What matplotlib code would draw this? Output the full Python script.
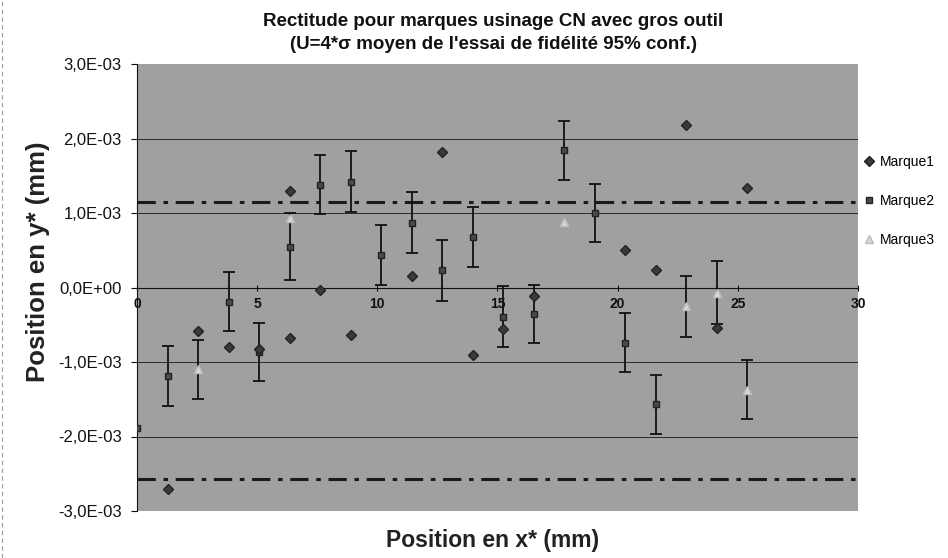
import matplotlib.pyplot as plt
from matplotlib.ticker import FuncFormatter, MultipleLocator

plt.rcParams['font.family'] = ['Liberation Sans', 'DejaVu Sans']

# Marque1 : losanges (pas de barres d'erreur)
x_m1 = [1.27, 2.54, 3.81, 5.08, 6.35, 6.35, 7.62, 8.89, 11.43, 12.70, 13.97,
        15.24, 16.51, 20.32, 21.59, 22.86, 24.13, 25.40]
y_m1 = [-2.71e-3, -0.58e-3, -0.80e-3, -0.82e-3, 1.29e-3, -0.68e-3, -0.04e-3,
        -0.64e-3, 0.15e-3, 1.82e-3, -0.91e-3, -0.56e-3, -0.12e-3, 0.51e-3,
        0.24e-3, 2.18e-3, -0.54e-3, 1.33e-3]

# Marque2 : carres avec barres d'erreur (U = 0 -> pas de barre)
x_m2 = [0.0, 1.27, 3.81, 5.08, 6.35, 7.62, 8.89, 10.16, 11.43, 12.70, 13.97,
        15.24, 16.51, 17.78, 19.05, 20.32, 21.59]
y_m2 = [-1.89e-3, -1.19e-3, -0.19e-3, -0.86e-3, 0.55e-3, 1.38e-3, 1.42e-3,
        0.44e-3, 0.87e-3, 0.23e-3, 0.68e-3, -0.39e-3, -0.36e-3, 1.84e-3,
        1.00e-3, -0.74e-3, -1.57e-3]
u_m2 = [0.0, 0.40e-3, 0.40e-3, 0.39e-3, 0.45e-3, 0.40e-3, 0.41e-3, 0.40e-3,
        0.41e-3, 0.41e-3, 0.40e-3, 0.41e-3, 0.39e-3, 0.40e-3, 0.39e-3,
        0.40e-3, 0.39e-3]

# Marque3 : triangles avec barres d'erreur
x_m3 = [2.54, 6.35, 17.78, 22.86, 24.13, 25.40]
y_m3 = [-1.10e-3, 0.93e-3, 0.88e-3, -0.25e-3, -0.07e-3, -1.37e-3]
u_m3 = [0.39e-3, 0.0, 0.0, 0.41e-3, 0.42e-3, 0.40e-3]

# limites (dash-dot)
lim_haut = 1.15e-3
lim_bas = -2.57e-3

titre = "Rectitude pour marques usinage CN avec gros outil\n(U=4*\u03c3 moyen de l'essai de fid\u00e9lit\u00e9 95% conf.)"


def fmt_y(v, pos):
    return f"{round(v, 6) + 0.0:.1E}".replace('.', ',')


def avec_barre(xs, ys, us):
    # garde seulement les points qui ont une barre d'erreur
    sel = [(a, b, c) for a, b, c in zip(xs, ys, us) if c > 0]
    return [s[0] for s in sel], [s[1] for s in sel], [s[2] for s in sel]


fig = plt.figure(figsize=(9.48, 5.58), dpi=100)
ax = fig.add_axes([137 / 948, 1 - 511 / 558, 721 / 948, 447 / 558])
ax.set_facecolor('#a0a0a0')
ax.set_xlim(0, 30)
ax.set_ylim(-3e-3, 3e-3)

# grille horizontale
for g in [-2e-3, -1e-3, 1e-3, 2e-3]:
    ax.axhline(g, color='#2b2b2b', lw=0.7, zorder=1)

ax.axhline(lim_haut, color='#1a1a1a', lw=2.2, ls=(0, (6, 2.5, 1.5, 2.5)), zorder=2)
ax.axhline(lim_bas, color='#1a1a1a', lw=2.2, ls=(0, (6, 2.5, 1.5, 2.5)), zorder=2)

# barres d'erreur
xb, yb, ub = avec_barre(x_m2, y_m2, u_m2)
ax.errorbar(xb, yb, yerr=ub, ls='none', ecolor='#111111', elinewidth=1.3,
            capsize=4, capthick=1.3, zorder=3)
xb, yb, ub = avec_barre(x_m3, y_m3, u_m3)
ax.errorbar(xb, yb, yerr=ub, ls='none', ecolor='#111111', elinewidth=1.3,
            capsize=4, capthick=1.3, zorder=3)

l1, = ax.plot(x_m1, y_m1, ls='none', marker='D', ms=5.5, color='#3a3a3a',
              mec='#222222', zorder=5)
l2, = ax.plot(x_m2, y_m2, ls='none', marker='s', ms=5, color='#4a4a4a',
              mec='#222222', zorder=4)
l3, = ax.plot(x_m3, y_m3, ls='none', marker='^', ms=6, color='#d6d6d6',
              mec='#bdbdbd', zorder=4)

# axes
for s in ['top', 'right']:
    ax.spines[s].set_visible(False)
ax.spines['bottom'].set_position(('data', 0))
ax.spines['bottom'].set_color('#111111')
ax.spines['left'].set_color('#111111')
ax.xaxis.set_major_locator(MultipleLocator(5))
ax.yaxis.set_major_locator(MultipleLocator(1e-3))
ax.yaxis.set_major_formatter(FuncFormatter(fmt_y))
ax.tick_params(axis='x', direction='inout', length=5, labelsize=10, pad=4,
               colors='#111111')
ax.tick_params(axis='y', direction='out', length=4, labelsize=12, pad=7,
               colors='#111111')
for lab in ax.get_xticklabels():
    lab.set_fontweight('bold')
ax.yaxis.get_offset_text().set_visible(False)

fig.text(493 / 948, 1 - 33 / 558, titre, ha='center', va='center',
         fontsize=13.5, fontweight='bold', linespacing=1.4, color='#111111')
fig.text(493 / 948, 1 - 541 / 558, 'Position en x* (mm)', ha='center', va='center',
         fontsize=16.5, fontweight='bold', color='#222222')
fig.text(38 / 948, 1 - 262 / 558, 'Position en y* (mm)', ha='center', va='center',
         rotation=90, fontsize=18.5, fontweight='bold', color='#222222')

fig.legend(handles=[l1, l2, l3],
           labels=['Marque1', 'Marque2', 'Marque3'],
           loc='upper left', bbox_to_anchor=(858 / 948, 1 - 149 / 558),
           frameon=False, fontsize=10, handlelength=0.8, handletextpad=0.4,
           labelspacing=1.8, borderaxespad=0)

# cadre pointille du graphique
fig.add_artist(plt.Line2D([2 / 948, 2 / 948], [0, 1], color='#999999', lw=0.8,
                          ls=(0, (4, 3))))

plt.savefig('out.png', dpi=100)
